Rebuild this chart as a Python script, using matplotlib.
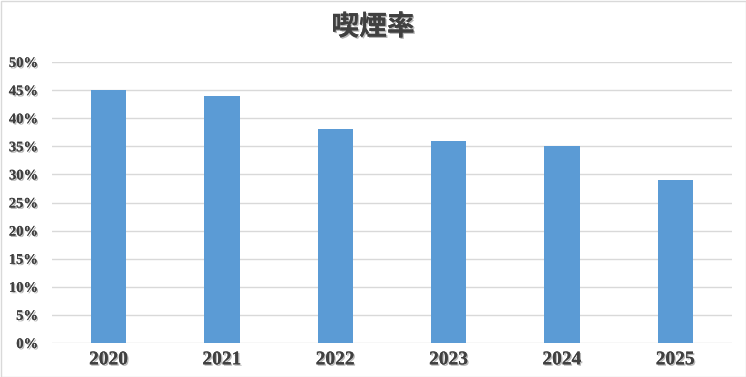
import matplotlib.pyplot as plt
import matplotlib.patheffects as pe
from matplotlib.ticker import MultipleLocator, FuncFormatter
from matplotlib.patches import Rectangle

years = ["2020", "2021", "2022", "2023", "2024", "2025"]
rates = [45, 44, 38, 36, 35, 29]

shadow = [pe.withSimplePatchShadow(offset=(1, -1), shadow_rgbFace="#999999", alpha=0.7), pe.Normal()]

fig = plt.figure(figsize=(7.46, 3.77), dpi=100)
ax = fig.add_axes([52 / 746, 1 - 343 / 377, 680 / 746, 281 / 377])

ax.bar(range(len(years)), rates, width=0.31, color="#5B9BD5", zorder=3)
ax.set_xlim(-0.5, len(years) - 0.5)
ax.set_ylim(0, 50)
ax.yaxis.set_major_locator(MultipleLocator(5))
ax.yaxis.set_major_formatter(FuncFormatter(lambda v, p: f"{v:.0f}%"))
ax.grid(axis="y", color="#D9D9D9", linewidth=1, zorder=0)
for s in ax.spines.values():
    s.set_visible(False)
ax.tick_params(length=0)
ax.set_xticks(range(len(years)))
ax.set_xticklabels(years)

for lab in ax.get_yticklabels():
    lab.set_fontfamily("Liberation Serif")
    lab.set_fontweight("bold")
    lab.set_fontsize(10.5)
    lab.set_color("#404040")
    lab.set_path_effects(shadow)
for lab in ax.get_xticklabels():
    lab.set_fontfamily("Liberation Serif")
    lab.set_fontweight("bold")
    lab.set_fontsize(14)
    lab.set_color("#404040")
    lab.set_path_effects(shadow)
ax.tick_params(axis="y", pad=10)
ax.tick_params(axis="x", pad=6)

fig.text(0.5, 1 - 27 / 377, "喫煙率", ha="center", va="center", fontsize=20,
         fontweight="bold", family=["Noto Sans CJK JP", "DejaVu Sans"], color="#404040",
         path_effects=shadow)

fig.patches.append(Rectangle((0.5 / 746, 0.5 / 377), 745 / 746, 376 / 377, transform=fig.transFigure,
                             fill=False, edgecolor="#D9D9D9", linewidth=1))

fig.savefig("out.png", dpi=100, facecolor="white")
